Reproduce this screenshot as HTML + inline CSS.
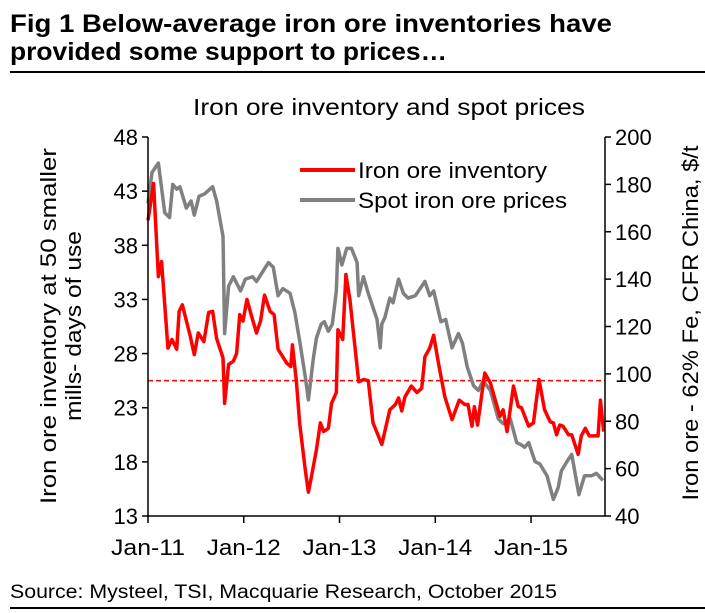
<!DOCTYPE html>
<html><head><meta charset="utf-8"><style>
html,body{margin:0;padding:0;background:#fff;}
svg{display:block;font-family:"Liberation Sans Narrow","Liberation Sans",Arial,sans-serif;}
</style></head><body>
<svg id="chart" width="705" height="613" viewBox="0 0 705 613" xmlns="http://www.w3.org/2000/svg">
<text x="10" y="32" font-size="25" font-weight="bold" textLength="602" lengthAdjust="spacingAndGlyphs">Fig 1    Below-average iron ore inventories have</text>
<text x="10" y="60" font-size="25" font-weight="bold" textLength="437" lengthAdjust="spacingAndGlyphs">provided some support to prices…</text>
<rect x="10" y="71" width="695" height="2" fill="#000"/>
<text x="193" y="115" font-size="23" textLength="392" lengthAdjust="spacingAndGlyphs">Iron ore inventory and spot prices</text>
<g id="plot"></g>
<text transform="translate(56,326) rotate(-90)" text-anchor="middle" font-size="22" textLength="356" lengthAdjust="spacingAndGlyphs">Iron ore inventory at 50 smaller</text>
<text transform="translate(81,326) rotate(-90)" text-anchor="middle" font-size="22" textLength="190" lengthAdjust="spacingAndGlyphs">mills- days of use</text>
<text transform="translate(698,323) rotate(-90)" text-anchor="middle" font-size="22" textLength="355" lengthAdjust="spacingAndGlyphs">Iron ore - 62% Fe, CFR China, $/t</text>
<line x1="300" y1="170" x2="355" y2="170" stroke="#ff0000" stroke-width="4"/>
<text x="358" y="178" font-size="22" textLength="189" lengthAdjust="spacingAndGlyphs">Iron ore inventory</text>
<line x1="300" y1="200" x2="355" y2="200" stroke="#808080" stroke-width="4"/>
<text x="358" y="208" font-size="22" textLength="209" lengthAdjust="spacingAndGlyphs">Spot iron ore prices</text>
<text x="10" y="598" font-size="19" textLength="547" lengthAdjust="spacingAndGlyphs">Source: Mysteel, TSI, Macquarie Research, October 2015</text>
<rect x="10" y="607" width="695" height="2" fill="#000"/>
</svg>
<script>
// months since Jan-11, inventory (days of use)
const invMonths=[0,0.7,1.3,1.7,2.5,3.0,3.6,3.9,4.3,5.3,5.8,6.3,7.0,7.6,8.1,8.6,9.4,9.6,10.1,10.7,11.1,11.5,11.9,12.4,13.0,13.6,14.1,14.6,15.3,15.8,16.3,17.4,17.9,18.1,18.6,19.0,19.7,20.1,20.5,21.1,21.6,22.0,22.6,23.0,23.6,23.8,24.4,24.8,25.3,26.4,27.0,27.6,28.2,28.7,29.3,30.3,31.0,31.4,31.8,32.2,33.0,33.7,34.3,34.7,35.3,35.8,36.4,37.2,38.1,39.0,39.7,40.1,40.6,40.9,41.3,42.2,42.9,44.1,44.5,45.0,45.8,46.4,46.8,47.7,48.3,49.0,49.7,50.4,50.8,51.2,51.6,52.0,52.7,53.1,53.9,54.3,54.8,55.3,56.4,56.7,57.1];
const invValues=[40.3,43.7,35.1,36.5,28.5,29.3,28.4,31.9,32.5,29.6,27.9,29.9,29.1,31.8,31.9,29.4,27.6,23.4,27.0,27.3,28.0,31.6,31.0,33.0,31.4,29.9,31.0,33.4,31.9,31.6,28.4,27.1,26.8,28.8,25.4,21.6,17.3,15.2,16.7,19.1,21.6,20.8,21.1,23.4,24.4,30.2,29.3,35.3,33.0,25.4,25.6,25.5,21.6,20.7,19.6,22.8,23.3,23.9,22.7,24.0,25.0,24.4,24.8,27.7,28.5,29.7,27.1,24.0,21.9,23.7,23.3,23.3,21.3,23.1,21.4,26.2,25.3,22.2,22.8,20.8,25.0,23.1,23.0,21.3,21.6,25.6,22.8,21.7,21.6,20.5,21.4,21.3,20.5,20.5,18.7,20.4,21.1,20.4,20.4,23.7,20.8];
const invAverage=25.5;
// months since Jan-11, spot price ($/t)
const priceMonths=[0,0.5,1.3,2.1,2.7,3.1,3.6,4.0,4.8,5.4,5.8,6.4,7.1,8.1,8.6,9.4,9.6,10.1,10.7,11.6,12.2,13.1,13.6,15.1,15.7,16.3,16.9,17.8,18.4,19.0,19.7,20.1,20.7,21.1,21.7,22.1,22.6,23.1,23.6,23.8,24.3,24.9,25.5,26.2,26.4,27.0,27.6,28.2,28.7,29.1,29.3,29.7,30.3,30.7,31.4,32.0,32.6,33.5,34.1,34.7,35.3,35.8,36.7,37.3,38.1,38.9,39.4,40.0,40.8,41.4,42.0,42.9,43.9,44.5,45.4,46.2,46.8,47.2,47.7,48.5,49.1,50.0,50.8,51.4,51.8,52.5,53.1,54.0,54.7,55.6,56.2,57.0];
const priceValues=[172,185,189,168,166,180,178,179,170,173,167,175,176,179,173,158,117,137,141,135,140,141,139,147,145,133,136,134,126,114,99,89,106,115,121,122,118,121,135,153,146,153,153,147,133,141,134,128,123,111,121,124,132,130,140,134,132,133,136,139,133,135,122,123,111,117,113,103,95,93,97,93,81,79,81,71,70,69,71,63,62,57,47,52,59,63,66,49,57,57,58,55];
const leftTicks=[13,18,23,28,33,38,43,48];
const rightTicks=[40,60,80,100,120,140,160,180,200];
const xTickLabels=["Jan-11","Jan-12","Jan-13","Jan-14","Jan-15"];
const xTickMonths=[0,12,24,36,48];

const X0=148,X1=605,Y0=516,Y1=137,PXM=7.98;
const xs=m=>X0+m*PXM;
const yl=v=>Y0-(v-13)/(48-13)*(Y0-Y1);
const yr=v=>Y0-(v-40)/(200-40)*(Y0-Y1);
const NS="http://www.w3.org/2000/svg";
const g=document.getElementById('plot');
function mk(tag,attrs){const e=document.createElementNS(NS,tag);for(const k in attrs)e.setAttribute(k,attrs[k]);g.appendChild(e);return e;}

let avg=mk('line',{x1:X0,x2:X1,y1:yl(invAverage),y2:yl(invAverage),stroke:'#ff0000','stroke-width':1.5,'stroke-dasharray':'5,3'});



let pp=mk('polyline',{points:priceMonths.map((m,i)=>xs(m)+','+yr(priceValues[i])).join(' '),fill:'none',stroke:'#808080','stroke-width':3.5,'stroke-linejoin':'round'});


let ip=mk('polyline',{points:invMonths.map((m,i)=>xs(m)+','+yl(invValues[i])).join(' '),fill:'none',stroke:'#ff0000','stroke-width':3.5,'stroke-linejoin':'round'});



let la=mk('line',{x1:X0,x2:X0,y1:Y1,y2:Y0,stroke:'#000','stroke-width':1.5});


let ra=mk('line',{x1:X1,x2:X1,y1:Y1,y2:Y0,stroke:'#000','stroke-width':1.5});


let xa=mk('line',{x1:X0,x2:X1,y1:Y0,y2:Y0,stroke:'#000','stroke-width':1.5});



leftTicks.forEach(v=>{
  const y=yl(v);
  let t=mk('line',{x1:X0-6,x2:X0,y1:y,y2:y,stroke:'#000','stroke-width':1.5});
  
  
  let l=mk('text',{x:X0-10,y:y+8,'text-anchor':'end','font-size':22});
  l.textContent=v;
  
  
});
rightTicks.forEach(v=>{
  const y=yr(v);
  let t=mk('line',{x1:X1,x2:X1+6,y1:y,y2:y,stroke:'#000','stroke-width':1.5});
  
  
  let l=mk('text',{x:X1+10,y:y+8,'font-size':22});
  l.textContent=v;
  
  
});
xTickMonths.forEach((m,i)=>{
  const x=xs(m);
  let t=mk('line',{x1:x,x2:x,y1:Y0,y2:Y0+7,stroke:'#000','stroke-width':1.5});
  
  
  let l=mk('text',{x:x-37,y:Y0+39,'font-size':22,textLength:74,lengthAdjust:'spacingAndGlyphs'});
  l.textContent=xTickLabels[i];
  
  
});
</script>
</body></html>
